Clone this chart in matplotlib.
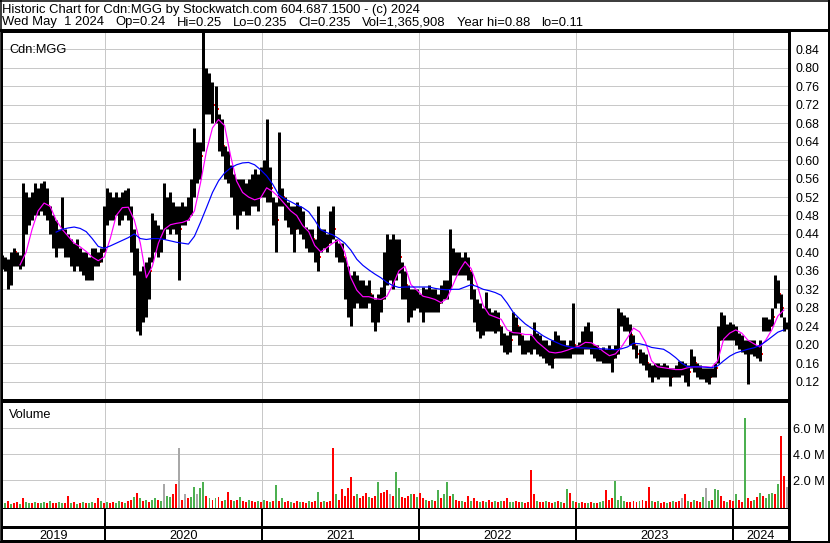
import numpy as np
import pandas as pd
import matplotlib
matplotlib.use("Agg")
import matplotlib.pyplot as plt

plt.rcParams['font.family'] = ['Liberation Sans', 'DejaVu Sans']

# weekly samples (one bar per week)
weeks = pd.date_range('2019-05-06', periods=262, freq='7D')

hi = [.395, .39, .385, .40, .41, .40, .395, .55, .53, .52,
      .53, .55, .54, .55, .555, .54, .50, .48, .47, .45,
      .52, .45, .44, .43, .42, .43, .41, .40, .40, .39,
      .41, .41, .40, .41, .50, .54, .53, .52, .53, .52,
      .53, .535, .54, .50, .45, .41, .36, .37, .38, .39,
      .485, .47, .46, .45, .55, .52, .53, .51, .50, .50,
      .51, .50, .52, .56, .67, .64, .64, .88, .80, .79,
      .77, .76, .70, .69, .63, .62, .59, .57, .56, .56,
      .56, .55, .56, .57, .58, .57, .585, .60, .69, .585,
      .52, .51, .66, .54, .52, .51, .50, .50, .51, .50,
      .49, .455, .45, .45, .43, .50, .45, .45, .44, .49,
      .50, .43, .42, .42, .39, .37, .35, .36, .35, .34,
      .34, .33, .34, .31, .30, .31, .325, .40, .44, .43,
      .44, .43, .43, .38, .36, .33, .32, .32, .32, .31,
      .325, .32, .33, .32, .32, .31, .33, .34, .34, .45,
      .41, .40, .40, .39, .40, .39, .36, .32, .30, .29,
      .28, .315, .28, .27, .275, .27, .24, .225, .22, .23,
      .27, .26, .24, .22, .21, .21, .22, .25, .225, .22,
      .21, .21, .20, .21, .23, .22, .21, .21, .20, .21,
      .29, .20, .205, .23, .24, .25, .23, .20, .20, .19,
      .195, .19, .20, .19, .20, .28, .27, .265, .26, .245,
      .22, .20, .19, .185, .18, .16, .155, .16, .16, .155,
      .16, .155, .15, .15, .155, .165, .165, .16, .155, .19,
      .175, .16, .155, .15, .15, .15, .15, .16, .24, .27,
      .265, .245, .25, .245, .24, .225, .22, .21, .21, .21,
      .21, .20, .21, .26, .26, .255, .28, .35, .34, .31,
      .26, .25]

lo = [.365, .36, .32, .33, .37, .37, .365, .37, .44, .46,
      .47, .48, .48, .49, .48, .47, .44, .41, .39, .41,
      .41, .39, .39, .37, .36, .37, .36, .35, .34, .34,
      .34, .37, .37, .38, .40, .46, .47, .47, .48, .46,
      .47, .48, .47, .40, .35, .23, .22, .25, .26, .30,
      .38, .40, .39, .40, .43, .45, .44, .45, .44, .34,
      .46, .46, .47, .48, .52, .55, .56, .62, .70, .70,
      .68, .68, .62, .61, .56, .55, .52, .48, .45, .48,
      .49, .48, .48, .50, .50, .49, .52, .52, .51, .51,
      .46, .40, .50, .50, .47, .455, .44, .40, .45, .44,
      .43, .41, .40, .40, .38, .36, .40, .41, .40, .42,
      .43, .39, .38, .38, .30, .26, .24, .28, .29, .28,
      .28, .28, .29, .25, .23, .25, .27, .30, .33, .34,
      .32, .34, .355, .30, .30, .25, .26, .275, .28, .27,
      .25, .27, .27, .27, .27, .27, .29, .30, .30, .32,
      .35, .35, .35, .35, .35, .34, .30, .25, .23, .215,
      .22, .23, .23, .23, .225, .23, .20, .185, .18, .185,
      .22, .22, .20, .18, .18, .185, .18, .19, .18, .175,
      .17, .16, .155, .15, .17, .17, .17, .17, .17, .17,
      .18, .18, .18, .18, .19, .19, .18, .17, .165, .165,
      .16, .16, .16, .14, .17, .18, .24, .23, .23, .20,
      .19, .17, .16, .155, .145, .13, .12, .13, .125, .13,
      .13, .13, .11, .13, .13, .13, .135, .12, .11, .15,
      .14, .13, .125, .125, .12, .115, .13, .13, .16, .21,
      .21, .21, .21, .21, .20, .19, .185, .18, .115, .18,
      .175, .17, .165, .23, .23, .23, .24, .28, .29, .26,
      .23, .235]

cl = [.38, .37, .35, .39, .40, .38, .38, .50, .48, .50,
      .51, .52, .50, .53, .52, .50, .46, .43, .42, .43,
      .44, .41, .42, .39, .38, .40, .37, .37, .36, .35,
      .39, .39, .38, .40, .48, .50, .49, .50, .51, .49,
      .51, .50, .49, .43, .38, .30, .27, .30, .32, .36,
      .44, .43, .42, .44, .50, .48, .49, .48, .47, .45,
      .49, .48, .50, .54, .60, .60, .61, .75, .76, .74,
      .72, .71, .66, .63, .59, .58, .55, .52, .50, .52,
      .53, .51, .52, .54, .53, .52, .55, .57, .58, .54,
      .49, .47, .53, .52, .49, .48, .47, .45, .48, .47,
      .45, .43, .42, .43, .40, .39, .42, .43, .42, .46,
      .45, .41, .40, .39, .33, .30, .29, .31, .32, .30,
      .31, .30, .31, .28, .26, .28, .30, .36, .39, .38,
      .38, .40, .39, .34, .33, .28, .29, .30, .30, .29,
      .30, .30, .30, .29, .29, .29, .31, .32, .33, .40,
      .38, .37, .38, .37, .38, .36, .33, .28, .26, .24,
      .25, .27, .25, .25, .26, .24, .22, .20, .19, .21,
      .25, .24, .22, .20, .195, .20, .20, .22, .20, .19,
      .18, .18, .17, .17, .20, .19, .19, .19, .18, .19,
      .20, .19, .19, .20, .21, .22, .20, .18, .18, .18,
      .17, .175, .18, .17, .18, .26, .25, .245, .24, .22,
      .20, .18, .17, .17, .16, .14, .14, .145, .14, .14,
      .15, .14, .13, .14, .14, .15, .15, .14, .14, .17,
      .16, .14, .14, .135, .13, .13, .14, .15, .21, .24,
      .23, .23, .23, .225, .22, .21, .20, .19, .19, .20,
      .19, .185, .18, .25, .24, .24, .26, .32, .31, .28,
      .24, .235]

# moving averages read every second week (magenta from week 6, blue from week 18)
ma_fast = [.373, .40, .45, .49, .507, .50, .47, .45, .435, .42,
           .412, .402, .39, .382, .39, .43, .48, .497, .498, .47,
           .42, .345, .37, .42, .45, .46, .463, .465, .47, .49,
           .55, .62, .67, .688, .675, .61, .555, .53, .52, .514,
           .518, .54, .532, .52, .505, .49, .48, .458, .445, .415,
           .401, .41, .42, .427, .40, .345, .318, .304, .304, .30,
           .298, .305, .33, .36, .37, .33, .318, .305, .302, .298,
           .291, .30, .33, .36, .38, .365, .33, .285, .265, .26,
           .255, .232, .226, .225, .222, .222, .206, .195, .184, .182,
           .184, .188, .193, .197, .205, .204, .196, .185, .176, .18,
           .195, .215, .236, .228, .205, .165, .152, .15, .148, .146,
           .146, .15, .152, .152, .152, .151, .165, .212, .225, .232,
           .225, .21, .202, .195, .21, .232, .262, .275]

ma_slow = [.444, .45, .453, .455, .452, .445, .43, .413, .409, .414,
           .42, .426, .432, .44, .43, .428, .43, .43, .428, .425,
           .422, .42, .418, .435, .465, .497, .53, .555, .572, .583,
           .59, .594, .595, .59, .579, .566, .548, .525, .516, .51,
           .503, .497, .488, .47, .449, .443, .438, .43, .42, .405,
           .385, .372, .362, .353, .345, .335, .328, .324, .325, .325,
           .325, .325, .325, .322, .32, .319, .32, .32, .325, .33,
           .326, .32, .317, .313, .307, .29, .27, .257, .245, .236,
           .228, .219, .212, .206, .20, .196, .194, .193, .193, .192,
           .191, .191, .19, .189, .191, .195, .203, .202, .199, .194,
           .192, .19, .182, .172, .16, .152, .152, .152, .151, .15,
           .154, .165, .175, .182, .186, .19, .193, .198, .207, .217,
           .227, .232]

# weekly volume in millions and bar colour (r=down, g=up, k=unchanged)
vol = [.15, .2, .4, .15, .2, .3, .15, .6, .3, .25,
       .2, .3, .25, .2, .3, .2, .35, .25, .2, .3,
       .2, .25, .75, .2, .3, .15, .2, .3, .25, .2,
       .3, .2, .6, .35, .2, .3, .25, .3, .2, .4,
       .3, .2, .35, .5, .7, 1.0, .6, .4, .5, .3,
       .45, .6, .5, .4, 1.7, .8, .7, .9, 1.7, 4.5,
       .5, .9, .6, .7, 1.5, .9, 1.4, 1.85, .8, .6,
       .5, .6, .7, .4, .5, 1.1, .5, .4, .5, .7,
       .4, .3, .5, .35, .3, .4, .3, .5, .4, .3,
       .35, 1.6, .4, .6, .3, .4, .3, .25, .35, .3,
       .3, .25, .4, .3, .35, 1.1, .3, .35, .3, .4,
       4.5, .9, .5, 1.3, .8, 1.4, 2.2, .8, .9, .6,
       .8, 1.0, .7, .6, .8, 1.85, 1.0, 1.1, 1.2, .9,
       .8, 2.6, 1.4, .7, .6, .8, .9, .9, .7, 1.0,
       .6, .5, .4, .5, .4, 1.2, .6, .9, 1.85, .8,
       .9, .5, .4, .35, .3, .8, .4, .65, .4, .3,
       .35, .3, .5, .3, .4, .3, .35, .4, .65, .3,
       .3, .35, .3, .3, .25, .3, 2.8, .9, .35, .3,
       .3, .4, .3, .25, .3, .35, .3, .25, 1.3, 1.0,
       .4, .3, .25, .3, .2, .25, .3, .2, .25, .3,
       .4, 1.2, .5, .6, 1.9, .5, .8, .4, .3, .3,
       .35, .3, .4, .5, .4, 1.5, .4, .3, .35, .25,
       .3, .25, .3, .4, .3, .35, .6, .9, .4, .3,
       .5, .4, .3, .7, 1.4, .4, .5, 1.3, 1.25, .8,
       .4, .3, .5, .35, .9, .5, .3, 6.8, .65, .4,
       .5, .7, 1.0, .8, .6, .9, 1.0, .9, 1.7, 5.4,
       2.3, 1.5]
vol_col = ("rgrgrrgrgg" "rgrggrgrrg" "grrgrgrgrg" "grrgrgrrgg" "rgrrgrgrgr"
           "ggrgkggrrk" "rkrggkggrg" "rgrrgrrgrg" "rrgrrgrgrg" "rgrgrrgrrg"
           "rrgrrgrgrr" "rgrrrrrrgr" "rrgrrgrrrk" "rggrrrgrgr" "rgrgrgrggr"
           "grrgrrgrrg" "rgrrgrgrrg" "grrgrrrrgr" "rgrrgrgrgr" "grgrrgrgrg"
           "grrrggggrr" "rrgrrrgrgr" "rgrgrrkrgr" "grrgkgrggr" "rgrrgrrgrr"
           "grgrgggrgr" "rk")

price_ticks = [0.12, 0.16, 0.20, 0.24, 0.28, 0.32, 0.36, 0.40, 0.44, 0.48,
               0.52, 0.56, 0.60, 0.64, 0.68, 0.72, 0.76, 0.80, 0.84]
vol_ticks = [2.0, 4.0, 6.0]
years = [2019, 2020, 2021, 2022, 2023, 2024]

header1 = "Historic Chart for Cdn:MGG by Stockwatch.com 604.687.1500 - (c) 2024"
header2 = ["Wed May  1 2024", "Op=0.24", "Hi=0.25", "Lo=0.235", "Cl=0.235",
           "Vol=1,365,908", "Year hi=0.88", "lo=0.11"]

W, H = 830, 543
grid_c = '#c8c8c8'
px = 72 / 100.0  # one pixel in points

fig = plt.figure(figsize=(W / 100, H / 100), dpi=100)
x0 = pd.Timestamp('2019-05-06')
x1 = pd.Timestamp('2024-05-11')
year_lines = [pd.Timestamp(f'{y}-01-01') for y in years[1:]]


def frac(left, top, right, bottom):
    return [left / W, 1 - bottom / H, (right - left) / W, (bottom - top) / H]


# price panel
ax = fig.add_axes(frac(2, 31, 789, 400))
ax.set_xlim(x0, x1)
ax.set_ylim(0.08, 0.88)
for yv in price_ticks:
    ax.axhline(yv, color=grid_c, lw=px, zorder=0)
for d in year_lines:
    ax.axvline(d, color=grid_c, lw=px, zorder=0)

half = pd.Timedelta(days=3.5)
tick_end = pd.Timedelta(days=7)
# close ticks sit under the next bar, so they only show where price gapped
ax.hlines(cl, weeks + half, weeks + tick_end, color='red', lw=2 * px, zorder=2)
ax.vlines(weeks, lo, hi, color='black', lw=3 * px, zorder=3)
ax.plot(weeks[6::2][:len(ma_fast)], ma_fast, color='#ff00ff', lw=1.2 * px, zorder=4)
ax.plot(weeks[18::2][:len(ma_slow)], ma_slow, color='#0000ff', lw=1.2 * px, zorder=4)

ax.yaxis.tick_right()
ax.set_yticks(price_ticks)
ax.set_yticklabels([f'{t:.2f}' for t in price_ticks], fontsize=8.9)
ax.tick_params(axis='y', length=0, pad=5)
ax.set_xticks([])
for s in ax.spines.values():
    s.set_color('black')
ax.spines['left'].set_linewidth(2 * px)
ax.spines['right'].set_linewidth(3 * px)
ax.spines['top'].set_linewidth(3 * px)
ax.spines['bottom'].set_linewidth(2 * px)
ax.text(0.009, 0.965, 'Cdn:MGG', transform=ax.transAxes, fontsize=9.2,
        va='top', ha='left')

# volume panel
vax = fig.add_axes(frac(2, 402, 789, 509))
vax.set_xlim(x0, x1)
vax.set_ylim(-0.23, 8.0)
for yv in vol_ticks:
    vax.axhline(yv, color=grid_c, lw=px, zorder=0)
for d in year_lines:
    vax.axvline(d, color=grid_c, lw=px, zorder=0)
colors = {'r': '#ff0000', 'g': '#4cb050', 'k': '#a8a8a8'}
vax.bar(weeks, np.array(vol) + 0.23, bottom=-0.23, width=4.6,
        color=[colors[c] for c in vol_col], zorder=2)
vax.yaxis.tick_right()
vax.set_yticks(vol_ticks)
vax.set_yticklabels([f'{t:.1f} M' for t in vol_ticks], fontsize=9.2)
vax.tick_params(axis='y', length=0, pad=3)
vax.set_xticks([])
for s in vax.spines.values():
    s.set_color('black')
vax.spines['left'].set_linewidth(2 * px)
vax.spines['right'].set_linewidth(3 * px)
vax.spines['top'].set_linewidth(2 * px)
vax.spines['bottom'].set_linewidth(3 * px)
vax.text(0.009, 0.93, 'Volume', transform=vax.transAxes, fontsize=9.2,
         va='top', ha='left')

# year band under the volume panel
bax = fig.add_axes(frac(2, 509, 789, 541))
bax.set_xlim(x0, x1)
bax.set_ylim(0, 1)
bax.axhline(14 / 32, color='black', lw=3 * px)
for d in year_lines:
    bax.axvline(d, color='black', lw=2 * px)
for y in years:
    a = max(pd.Timestamp(f'{y}-01-01'), x0)
    b = min(pd.Timestamp(f'{y + 1}-01-01'), x1)
    bax.text(a + (b - a) / 2, 0.06, str(y), ha='center', va='baseline', fontsize=9.2)
bax.set_xticks([])
bax.set_yticks([])
for s in bax.spines.values():
    s.set_color('black')
bax.spines['top'].set_visible(False)
bax.spines['left'].set_linewidth(2 * px)
bax.spines['right'].set_linewidth(3 * px)
bax.spines['bottom'].set_linewidth(2 * px)

# outer frame and header text, in pixel coordinates
ov = fig.add_axes([0, 0, 1, 1])
ov.set_xlim(0, W)
ov.set_ylim(H, 0)
ov.axis('off')
ov.patch.set_alpha(0)
ov.plot([0, W], [0.5, 0.5], color='black', lw=1.5 * px)
ov.plot([W - 1.5, W - 1.5], [0, 541], color='black', lw=3 * px)
ov.plot([0.5, 0.5], [0, H], color='black', lw=1.5 * px)
ov.plot([0, W], [30, 30], color='black', lw=3 * px)
ov.plot([0, W], [541.5, 541.5], color='black', lw=2 * px)
ov.text(2, 13.5, header1, fontsize=9.4, va='baseline', ha='left')

# second header line: fields spread evenly between x=2 and x=583
renderer = fig.canvas.get_renderer()
fields = [ov.text(0, 25.5, s, fontsize=9.4, va='baseline', ha='left') for s in header2]
widths = [t.get_window_extent(renderer).width for t in fields]
gap = (583 - 2 - sum(widths)) / (len(fields) - 1)
xp = 2.0
for t, w in zip(fields, widths):
    t.set_x(xp)
    xp += w + gap

fig.savefig('out.png', dpi=100)
